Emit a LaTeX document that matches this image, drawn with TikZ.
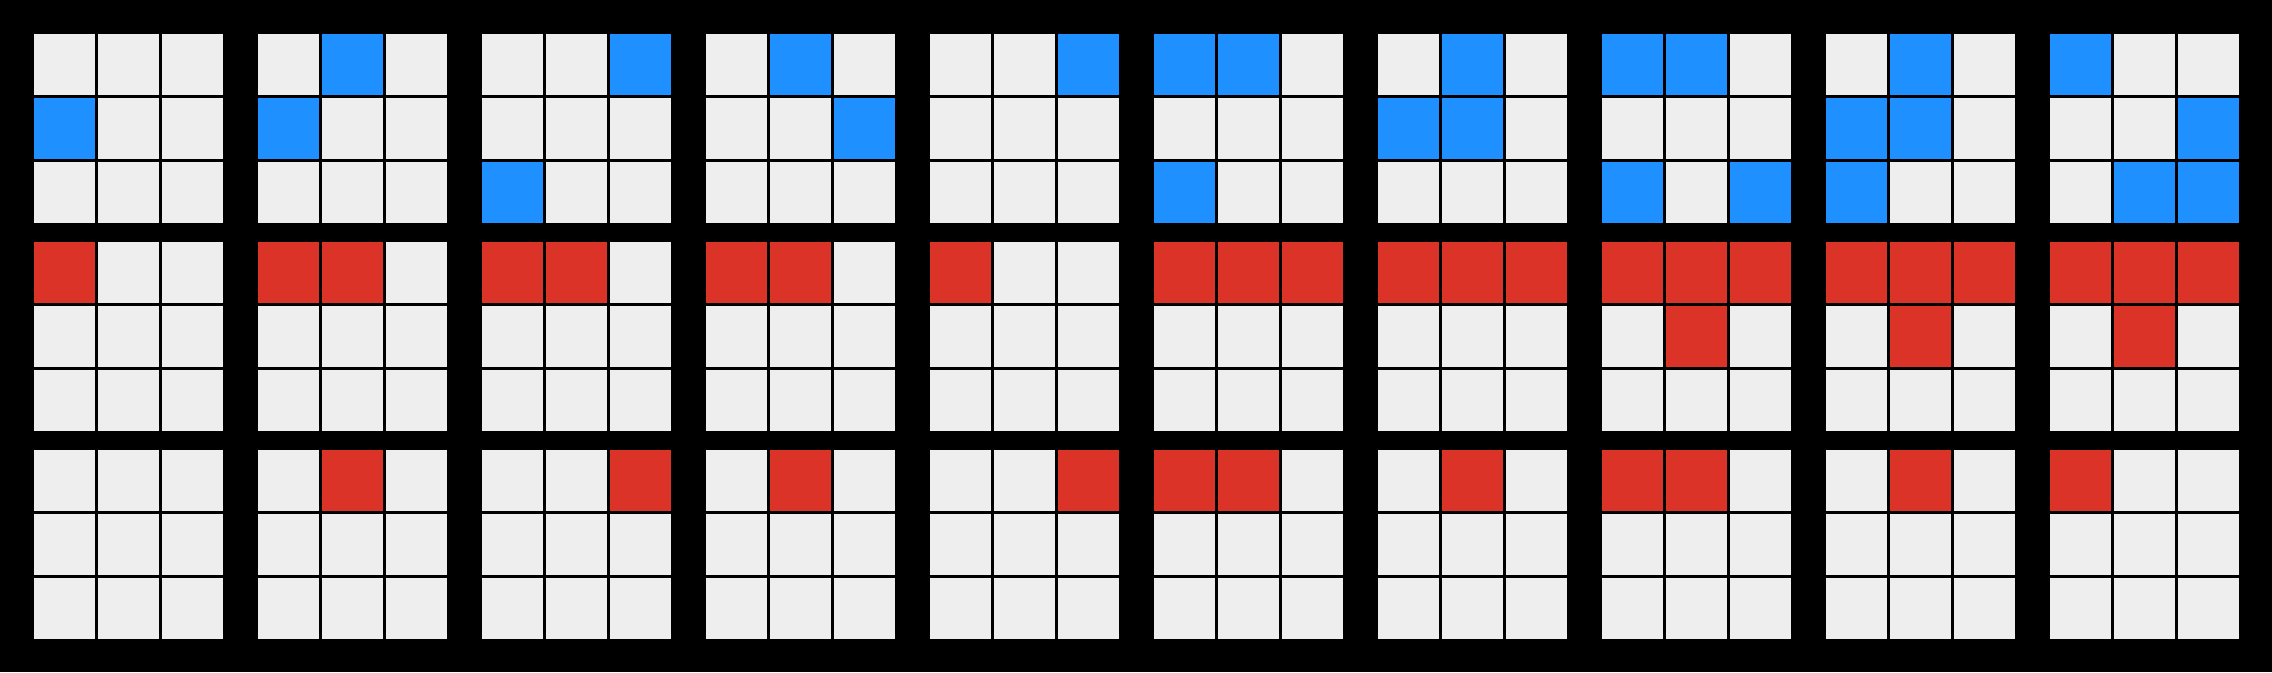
\documentclass[tikz,border=0pt]{standalone}
\definecolor{cellgray}{HTML}{EEEEEE}
\definecolor{cellblue}{HTML}{1E90FF}
\definecolor{cellred}{HTML}{DC3328}
\begin{document}
\begin{tikzpicture}[x=1pt,y=-1pt,
  cellbase/.style={fill=cellgray},
  cellon/.style={fill=#1}]
\fill[black] (0,0) rectangle (2272,672);
% base grids
\foreach \g in {0,...,9}{
 \foreach \b in {0,1,2}{
  \foreach \r in {0,1,2}{
   \foreach \c in {0,1,2}{
    \pgfmathsetmacro\xx{34+224*\g+64*\c}
    \pgfmathsetmacro\yy{34+208*\b+64*\r}
    \path[cellbase] (\xx,\yy) rectangle ++(61,61);
}}}}
% blue (top band)
\foreach \g/\r/\c in {0/1/0, 1/0/1, 1/1/0, 2/0/2, 2/2/0, 3/0/1, 3/1/2, 4/0/2,
  5/0/0, 5/0/1, 5/2/0, 6/0/1, 6/1/0, 6/1/1, 7/0/0, 7/0/1, 7/2/0, 7/2/2,
  8/0/1, 8/1/0, 8/1/1, 8/2/0, 9/0/0, 9/1/2, 9/2/1, 9/2/2}{
    \pgfmathsetmacro\xx{34+224*\g+64*\c}
    \pgfmathsetmacro\yy{34+64*\r}
    \path[cellon=cellblue] (\xx,\yy) rectangle ++(61,61);
}
% red (middle band)
\foreach \g/\r/\c in {0/0/0, 1/0/0, 1/0/1, 2/0/0, 2/0/1, 3/0/0, 3/0/1, 4/0/0,
  5/0/0, 5/0/1, 5/0/2, 6/0/0, 6/0/1, 6/0/2, 7/0/0, 7/0/1, 7/0/2, 7/1/1,
  8/0/0, 8/0/1, 8/0/2, 8/1/1, 9/0/0, 9/0/1, 9/0/2, 9/1/1}{
    \pgfmathsetmacro\xx{34+224*\g+64*\c}
    \pgfmathsetmacro\yy{242+64*\r}
    \path[cellon=cellred] (\xx,\yy) rectangle ++(61,61);
}
% red (bottom band)
\foreach \g/\r/\c in {1/0/1, 2/0/2, 3/0/1, 4/0/2, 5/0/0, 5/0/1, 6/0/1,
  7/0/0, 7/0/1, 8/0/1, 9/0/0}{
    \pgfmathsetmacro\xx{34+224*\g+64*\c}
    \pgfmathsetmacro\yy{450+64*\r}
    \path[cellon=cellred] (\xx,\yy) rectangle ++(61,61);
}
\end{tikzpicture}
\end{document}
